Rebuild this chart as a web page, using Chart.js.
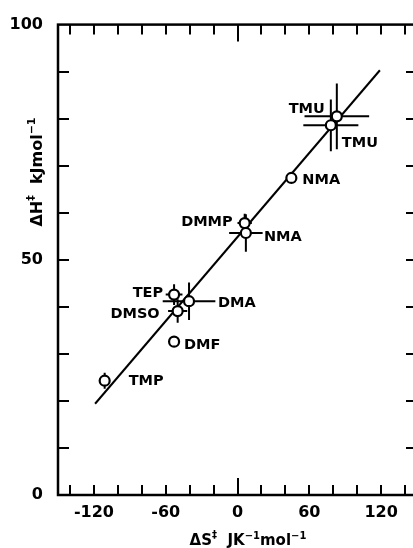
<!DOCTYPE html>
<html>
<head>
<meta charset="utf-8">
<script src="https://cdn.jsdelivr.net/npm/chart.js@4.4.1/dist/chart.umd.min.js"></script>
<style>
html, body { margin: 0; padding: 0; overflow: hidden; background: #fff; }
canvas { display: block; }
</style>
</head>
<body>
<canvas id="plot" width="425" height="548"></canvas>
<script>
'use strict';

// compounds, delta S (J/K/mol) and delta H (kJ/mol)
var names = ['TMU', 'TMU', 'NMA', 'DMMP', 'NMA', 'TEP', 'DMA', 'DMSO', 'DMF', 'TMP'];
var entropy = [83, 78, 45, 6, 7, -53, -40.5, -50, -53, -111];
var enthalpy = [80.5, 78.6, 67.4, 57.8, 55.7, 42.6, 41.2, 39.1, 32.6, 24.3];
var entropyErr = [27, 23, 0, 6, 14, 7, 22, 8, 0, 0];
var enthalpyErr = [7, 5.5, 0, 2, 4, 2.2, 4, 2.5, 0, 1.7];

// ends of the fitted line
var fitX = [-119, 119];
var fitY = [19.4, 90.3];

var xTickLabels = [-120, -60, 0, 60, 120];
var yTickLabels = [0, 50, 100];
var xMinorStep = 20;
var yMinorStep = 10;

// label placement next to each point (pixels), kept apart from the data
var labelPos = [
  [-12, -9, 'right'],
  [11, 16, 'left'],
  [11, 1, 'left'],
  [-12, -2, 'right'],
  [18, 3, 'left'],
  [-11, -3, 'right'],
  [29, 1, 'left'],
  [-18, 2, 'right'],
  [10, 2, 'left'],
  [24, -1, 'left']
];

var FONT = '"DejaVu Sans", sans-serif';

function rich(ctx, parts, x, y) {
  var total = 0;
  parts.forEach(function (p) {
    ctx.font = 'bold ' + p[1] + 'px ' + FONT;
    total += ctx.measureText(p[0]).width;
  });
  var cx = x - total / 2;
  parts.forEach(function (p) {
    ctx.font = 'bold ' + p[1] + 'px ' + FONT;
    ctx.fillText(p[0], cx, y - p[2]);
    cx += ctx.measureText(p[0]).width;
  });
}

var errorBars = {
  id: 'errorBars',
  beforeDatasetsDraw: function (chart) {
    var ctx = chart.ctx, xs = chart.scales.x, ys = chart.scales.y;
    ctx.save();
    ctx.strokeStyle = '#000';
    ctx.lineWidth = 2;
    ctx.beginPath();
    for (var i = 0; i < entropy.length; i++) {
      var px = xs.getPixelForValue(entropy[i]);
      var py = ys.getPixelForValue(enthalpy[i]);
      if (entropyErr[i] > 0) {
        ctx.moveTo(xs.getPixelForValue(entropy[i] - entropyErr[i]), py);
        ctx.lineTo(xs.getPixelForValue(entropy[i] + entropyErr[i]), py);
      }
      if (enthalpyErr[i] > 0) {
        ctx.moveTo(px, ys.getPixelForValue(enthalpy[i] - enthalpyErr[i]));
        ctx.lineTo(px, ys.getPixelForValue(enthalpy[i] + enthalpyErr[i]));
      }
    }
    ctx.stroke();
    ctx.restore();
  }
};

var decor = {
  id: 'decor',
  afterDraw: function (chart) {
    var ctx = chart.ctx, a = chart.chartArea, xs = chart.scales.x, ys = chart.scales.y;
    var v, px, py, len, i;
    ctx.save();
    ctx.strokeStyle = '#000';
    ctx.fillStyle = '#000';
    ctx.lineWidth = 2.5;
    ctx.strokeRect(a.left, a.top, a.right - a.left, a.bottom - a.top);

    // inward tick marks, bottom and top
    ctx.lineWidth = 2;
    for (v = Math.ceil(xs.min / xMinorStep) * xMinorStep; v < xs.max; v += xMinorStep) {
      if (v <= xs.min) continue;
      px = Math.round(xs.getPixelForValue(v));
      len = v === 0 ? 17 : 10;
      ctx.beginPath();
      ctx.moveTo(px, a.bottom);
      ctx.lineTo(px, a.bottom - len);
      ctx.stroke();
      ctx.beginPath();
      ctx.moveTo(px, a.top);
      ctx.lineTo(px, a.top + len);
      ctx.stroke();
    }
    // left and right
    for (v = ys.min + yMinorStep; v < ys.max; v += yMinorStep) {
      py = Math.round(ys.getPixelForValue(v));
      ctx.beginPath();
      ctx.moveTo(a.left, py); ctx.lineTo(a.left + 11, py);
      ctx.moveTo(a.right, py); ctx.lineTo(a.right - 11, py);
      ctx.stroke();
    }

    // point names
    ctx.font = 'bold 14.5px ' + FONT;
    ctx.textBaseline = 'alphabetic';
    for (i = 0; i < names.length; i++) {
      px = xs.getPixelForValue(entropy[i]);
      py = ys.getPixelForValue(enthalpy[i]);
      ctx.textAlign = labelPos[i][2];
      ctx.fillText(names[i], px + labelPos[i][0], py + labelPos[i][1] + 5.3);
    }

    // axis titles
    ctx.textAlign = 'left';
    rich(ctx, [['\u0394S', 15, 0], ['\u2021', 10, 7], ['  JK', 15, 0], ['\u22121', 10, 6], ['mol', 15, 0], ['\u22121', 10, 6]],
      248, 545);
    ctx.translate(42, 172);
    ctx.rotate(-Math.PI / 2);
    rich(ctx, [['\u0394H', 16, 0], ['\u2021', 11, 8], ['  kJmol', 16, 0], ['\u22121', 11, 7]], 0, 0);
    ctx.restore();
  }
};

var tickFont = { family: FONT, weight: 'bold', size: 16 };

new Chart(document.getElementById('plot').getContext('2d'), {
  type: 'scatter',
  data: {
    datasets: [{
      type: 'scatter',
      order: 0,
      data: entropy.map(function (x, i) { return { x: x, y: enthalpy[i] }; }),
      pointStyle: 'circle',
      pointRadius: 5,
      pointBorderWidth: 2.2,
      pointBackgroundColor: '#fff',
      pointBorderColor: '#000'
    }, {
      type: 'line',
      order: 1,
      data: fitX.map(function (x, i) { return { x: x, y: fitY[i] }; }),
      borderColor: '#000',
      borderWidth: 2,
      pointRadius: 0,
      fill: false
    }]
  },
  options: {
    responsive: false,
    animation: false,
    layout: { padding: { top: 22, right: 0, left: 0, bottom: 0 } },
    plugins: { legend: { display: false }, tooltip: { enabled: false } },
    scales: {
      x: {
        type: 'linear',
        min: -150,
        max: 150,
        grid: { display: false, drawTicks: false },
        border: { display: false },
        ticks: {
          stepSize: 10,
          maxTicksLimit: 100,
          autoSkip: false,
          maxRotation: 0,
          padding: 8,
          color: '#000',
          font: tickFont,
          callback: function (v) { return xTickLabels.indexOf(v) >= 0 ? String(v) : ''; }
        },
        afterFit: function (s) { s.height = 53; }
      },
      y: {
        min: 0,
        max: 100,
        grid: { display: false, drawTicks: false },
        border: { display: false },
        ticks: {
          stepSize: 10,
          maxTicksLimit: 100,
          autoSkip: false,
          padding: 15,
          color: '#000',
          font: tickFont,
          callback: function (v) { return yTickLabels.indexOf(v) >= 0 ? String(v) : ''; }
        },
        afterFit: function (s) { s.width = 58; }
      }
    }
  },
  plugins: [errorBars, decor]
});
</script>
</body>
</html>
